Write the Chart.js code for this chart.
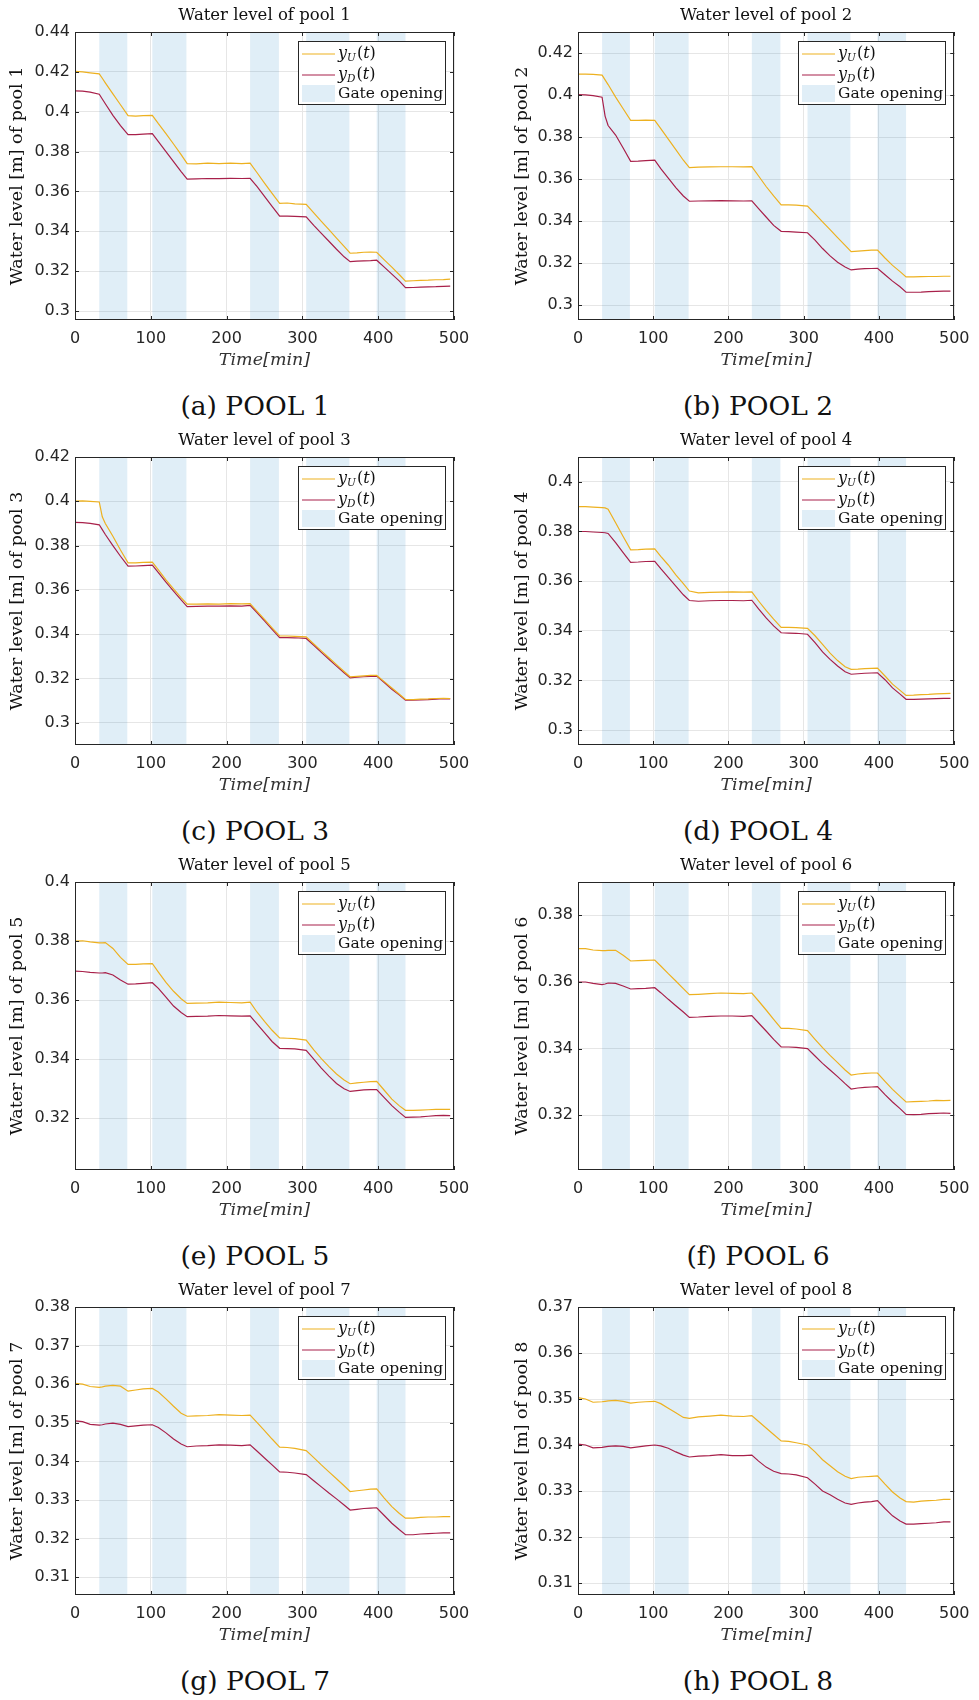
<!DOCTYPE html>
<html>
<head>
<meta charset="utf-8">
<script src="https://cdn.jsdelivr.net/npm/chart.js@4.4.1/dist/chart.umd.min.js"></script>
<style>
  html, body { margin: 0; padding: 0; background: #fff; }
  body { position: relative; width: 979px; height: 1700px; overflow: hidden; }
  .panel { position: absolute; height: 385px; }
  .panel canvas { display: block; }
  .cap { position: absolute; font-family: "DejaVu Serif", serif; font-size: 26.5px; color: #111;
         transform: translate(-50%, -50%); white-space: nowrap; line-height: 1; }
</style>
</head>
<body>
<script>
// Sample times [min], shared by every pool
const minutes = [0,10,20,32,36,40,50,60,70,80,90,102,110,120,130,140,148,160,175,190,205,220,231,240,250,260,270,280,290,305,315,325,335,345,355,363,372,381,390,398,408,418,428,436,446,456,466,476,486,495];

// Gate opening intervals [min]
const gateStart = [32, 102, 231, 305, 398];
const gateEnd   = [69, 147, 269, 362, 436];

const xTicks = [0, 100, 200, 300, 400, 500];

// Upstream (yU) and downstream (yD) water levels [m]
const pool1Up = [0.4202,0.4200,0.4195,0.4190,0.4168,0.4145,0.4090,0.4035,0.3980,0.3978,
  0.3980,0.3982,0.3940,0.3890,0.3838,0.3785,0.3740,0.3738,0.3742,0.3740,
  0.3742,0.3740,0.3742,0.3695,0.3642,0.3590,0.3540,0.3542,0.3538,0.3535,
  0.3492,0.3450,0.3408,0.3366,0.3324,0.3290,0.3292,0.3295,0.3296,0.3295,
  0.3257,0.3220,0.3182,0.3150,0.3152,0.3154,0.3155,0.3157,0.3158,0.3160];
const pool1Down = [0.4105,0.4103,0.4098,0.4088,0.4064,0.4040,0.3982,0.3930,0.3885,0.3885,
  0.3888,0.3890,0.3850,0.3800,0.3750,0.3700,0.3662,0.3663,0.3665,0.3664,
  0.3666,0.3665,0.3666,0.3625,0.3575,0.3525,0.3476,0.3476,0.3475,0.3472,
  0.3430,0.3390,0.3350,0.3310,0.3272,0.3248,0.3250,0.3252,0.3253,0.3255,
  0.3220,0.3185,0.3150,0.3117,0.3118,0.3120,0.3121,0.3122,0.3124,0.3125];

const pool2Up = [0.4100,0.4100,0.4098,0.4095,0.4072,0.4050,0.3990,0.3935,0.3880,0.3880,
  0.3881,0.3880,0.3840,0.3790,0.3740,0.3690,0.3655,0.3657,0.3658,0.3659,
  0.3659,0.3658,0.3660,0.3615,0.3565,0.3520,0.3478,0.3478,0.3476,0.3472,
  0.3435,0.3397,0.3360,0.3322,0.3285,0.3255,0.3258,0.3260,0.3262,0.3262,
  0.3225,0.3190,0.3160,0.3135,0.3135,0.3136,0.3137,0.3137,0.3138,0.3138];
const pool2Down = [0.4002,0.4001,0.3997,0.3990,0.3900,0.3855,0.3810,0.3748,0.3685,0.3686,
  0.3688,0.3690,0.3650,0.3605,0.3560,0.3520,0.3495,0.3496,0.3497,0.3498,
  0.3497,0.3496,0.3497,0.3460,0.3420,0.3380,0.3352,0.3350,0.3348,0.3345,
  0.3310,0.3270,0.3235,0.3205,0.3182,0.3168,0.3172,0.3174,0.3175,0.3176,
  0.3145,0.3115,0.3088,0.3062,0.3062,0.3063,0.3065,0.3066,0.3067,0.3067];

const pool3Up = [0.4001,0.4002,0.4000,0.3997,0.3930,0.3900,0.3842,0.3780,0.3722,0.3722,
  0.3724,0.3725,0.3690,0.3645,0.3605,0.3565,0.3536,0.3536,0.3537,0.3536,
  0.3538,0.3537,0.3538,0.3504,0.3467,0.3429,0.3392,0.3392,0.3390,0.3388,
  0.3356,0.3325,0.3294,0.3263,0.3232,0.3208,0.3210,0.3212,0.3214,0.3214,
  0.3186,0.3157,0.3129,0.3106,0.3105,0.3107,0.3108,0.3110,0.3111,0.3110];
const pool3Down = [0.3905,0.3904,0.3900,0.3894,0.3872,0.3850,0.3800,0.3752,0.3707,0.3708,
  0.3710,0.3712,0.3678,0.3635,0.3595,0.3555,0.3525,0.3526,0.3527,0.3527,
  0.3528,0.3527,0.3530,0.3498,0.3460,0.3422,0.3385,0.3385,0.3384,0.3381,
  0.3350,0.3318,0.3287,0.3256,0.3226,0.3203,0.3206,0.3208,0.3210,0.3211,
  0.3182,0.3152,0.3125,0.3102,0.3102,0.3104,0.3105,0.3107,0.3109,0.3108];

const pool4Up = [0.3900,0.3900,0.3898,0.3896,0.3895,0.3890,0.3835,0.3780,0.3726,0.3727,
  0.3729,0.3730,0.3700,0.3665,0.3625,0.3590,0.3560,0.3553,0.3555,0.3556,
  0.3557,0.3556,0.3557,0.3520,0.3482,0.3447,0.3414,0.3414,0.3413,0.3410,
  0.3380,0.3345,0.3310,0.3280,0.3255,0.3245,0.3246,0.3248,0.3249,0.3250,
  0.3218,0.3185,0.3160,0.3140,0.3141,0.3143,0.3144,0.3146,0.3147,0.3148];
const pool4Down = [0.3800,0.3800,0.3798,0.3796,0.3795,0.3792,0.3755,0.3715,0.3676,0.3677,
  0.3679,0.3680,0.3650,0.3615,0.3580,0.3545,0.3522,0.3519,0.3521,0.3522,
  0.3522,0.3521,0.3523,0.3488,0.3452,0.3420,0.3392,0.3391,0.3390,0.3386,
  0.3352,0.3315,0.3285,0.3258,0.3235,0.3225,0.3227,0.3229,0.3230,0.3231,
  0.3203,0.3170,0.3145,0.3124,0.3124,0.3125,0.3126,0.3127,0.3128,0.3128];

const pool5Up = [0.3800,0.3801,0.3797,0.3794,0.3794,0.3795,0.3775,0.3745,0.3721,0.3721,
  0.3723,0.3724,0.3695,0.3660,0.3630,0.3605,0.3589,0.3590,0.3591,0.3593,
  0.3592,0.3591,0.3593,0.3560,0.3528,0.3498,0.3472,0.3471,0.3470,0.3465,
  0.3432,0.3402,0.3375,0.3350,0.3330,0.3317,0.3320,0.3322,0.3324,0.3325,
  0.3295,0.3265,0.3242,0.3227,0.3227,0.3228,0.3229,0.3230,0.3230,0.3230];
const pool5Down = [0.3698,0.3697,0.3694,0.3692,0.3692,0.3693,0.3685,0.3668,0.3654,0.3655,
  0.3657,0.3659,0.3640,0.3610,0.3580,0.3558,0.3544,0.3545,0.3546,0.3548,
  0.3547,0.3546,0.3547,0.3520,0.3490,0.3460,0.3437,0.3436,0.3435,0.3430,
  0.3400,0.3370,0.3343,0.3318,0.3300,0.3291,0.3294,0.3296,0.3297,0.3297,
  0.3270,0.3243,0.3220,0.3203,0.3204,0.3205,0.3207,0.3209,0.3210,0.3209];

const pool6Up = [0.3700,0.3700,0.3696,0.3694,0.3694,0.3695,0.3695,0.3680,0.3663,0.3664,
  0.3665,0.3666,0.3648,0.3625,0.3603,0.3580,0.3562,0.3563,0.3565,0.3567,
  0.3566,0.3565,0.3567,0.3543,0.3516,0.3488,0.3461,0.3461,0.3459,0.3454,
  0.3428,0.3403,0.3380,0.3358,0.3336,0.3321,0.3324,0.3326,0.3327,0.3327,
  0.3302,0.3278,0.3257,0.3240,0.3241,0.3242,0.3243,0.3245,0.3244,0.3245];
const pool6Down = [0.3600,0.3600,0.3596,0.3592,0.3594,0.3597,0.3596,0.3588,0.3579,0.3580,
  0.3581,0.3583,0.3568,0.3548,0.3529,0.3510,0.3494,0.3495,0.3497,0.3498,
  0.3498,0.3497,0.3499,0.3477,0.3453,0.3428,0.3405,0.3405,0.3404,0.3400,
  0.3378,0.3356,0.3336,0.3316,0.3295,0.3279,0.3282,0.3284,0.3285,0.3286,
  0.3262,0.3240,0.3220,0.3203,0.3202,0.3203,0.3205,0.3206,0.3207,0.3206];

const pool7Up = [0.3602,0.3600,0.3594,0.3592,0.3593,0.3595,0.3597,0.3595,0.3582,0.3585,
  0.3588,0.3589,0.3580,0.3562,0.3543,0.3525,0.3517,0.3518,0.3519,0.3521,
  0.3520,0.3519,0.3520,0.3501,0.3480,0.3458,0.3437,0.3436,0.3434,0.3428,
  0.3410,0.3391,0.3373,0.3355,0.3337,0.3322,0.3324,0.3326,0.3328,0.3329,
  0.3305,0.3283,0.3265,0.3253,0.3253,0.3255,0.3256,0.3256,0.3257,0.3257];
const pool7Down = [0.3505,0.3503,0.3496,0.3494,0.3495,0.3497,0.3499,0.3496,0.3490,0.3492,
  0.3494,0.3495,0.3488,0.3474,0.3458,0.3445,0.3438,0.3440,0.3441,0.3443,
  0.3442,0.3441,0.3443,0.3427,0.3409,0.3391,0.3373,0.3372,0.3370,0.3366,
  0.3350,0.3334,0.3318,0.3303,0.3287,0.3274,0.3276,0.3278,0.3279,0.3280,
  0.3260,0.3240,0.3223,0.3210,0.3210,0.3212,0.3213,0.3214,0.3215,0.3215];

const pool8Up = [0.3503,0.3500,0.3493,0.3494,0.3495,0.3496,0.3497,0.3495,0.3491,0.3493,
  0.3494,0.3495,0.3490,0.3480,0.3470,0.3460,0.3458,0.3461,0.3463,0.3465,
  0.3463,0.3462,0.3464,0.3451,0.3437,0.3423,0.3409,0.3408,0.3405,0.3400,
  0.3385,0.3368,0.3355,0.3342,0.3332,0.3327,0.3330,0.3331,0.3332,0.3333,
  0.3315,0.3298,0.3285,0.3277,0.3276,0.3278,0.3279,0.3280,0.3282,0.3282];
const pool8Down = [0.3402,0.3400,0.3394,0.3395,0.3396,0.3397,0.3398,0.3397,0.3394,0.3396,
  0.3398,0.3400,0.3398,0.3393,0.3385,0.3378,0.3374,0.3376,0.3377,0.3379,
  0.3377,0.3377,0.3378,0.3365,0.3352,0.3343,0.3338,0.3337,0.3335,0.3329,
  0.3315,0.3300,0.3292,0.3282,0.3274,0.3271,0.3274,0.3276,0.3277,0.3279,
  0.3262,0.3246,0.3235,0.3228,0.3228,0.3229,0.3230,0.3231,0.3233,0.3233];

// Y tick labels per pool
const pool1YTicks = ['0.3','0.32','0.34','0.36','0.38','0.4','0.42','0.44'];
const pool2YTicks = ['0.3','0.32','0.34','0.36','0.38','0.4','0.42'];
const pool3YTicks = ['0.3','0.32','0.34','0.36','0.38','0.4','0.42'];
const pool4YTicks = ['0.3','0.32','0.34','0.36','0.38','0.4'];
const pool5YTicks = ['0.32','0.34','0.36','0.38','0.4'];
const pool6YTicks = ['0.32','0.34','0.36','0.38'];
const pool7YTicks = ['0.31','0.32','0.33','0.34','0.35','0.36','0.37','0.38'];
const pool8YTicks = ['0.31','0.32','0.33','0.34','0.35','0.36','0.37'];

const panels = [
  { n: 1, cap: '(a) POOL 1', up: pool1Up, down: pool1Down, yTicks: pool1YTicks, yMin: 0.2955, yMax: 0.44 },
  { n: 2, cap: '(b) POOL 2', up: pool2Up, down: pool2Down, yTicks: pool2YTicks, yMin: 0.2930, yMax: 0.43 },
  { n: 3, cap: '(c) POOL 3', up: pool3Up, down: pool3Down, yTicks: pool3YTicks, yMin: 0.2900, yMax: 0.42 },
  { n: 4, cap: '(d) POOL 4', up: pool4Up, down: pool4Down, yTicks: pool4YTicks, yMin: 0.2940, yMax: 0.41 },
  { n: 5, cap: '(e) POOL 5', up: pool5Up, down: pool5Down, yTicks: pool5YTicks, yMin: 0.3025, yMax: 0.40 },
  { n: 6, cap: '(f) POOL 6', up: pool6Up, down: pool6Down, yTicks: pool6YTicks, yMin: 0.3036, yMax: 0.39 },
  { n: 7, cap: '(g) POOL 7', up: pool7Up, down: pool7Down, yTicks: pool7YTicks, yMin: 0.3054, yMax: 0.38 },
  { n: 8, cap: '(h) POOL 8', up: pool8Up, down: pool8Down, yTicks: pool8YTicks, yMin: 0.3074, yMax: 0.37 }
];

const UP_COLOR = '#EDB120';
const DOWN_COLOR = '#A8204A';
const GATE_FILL = 'rgba(0, 114, 189, 0.12)';
const AXIS_COLOR = '#262626';

// Shaded gate-opening intervals behind the curves
const gateBands = {
  id: 'gateBands',
  beforeDatasetsDraw(chart) {
    const { ctx, chartArea: a, scales: { x } } = chart;
    ctx.save();
    ctx.fillStyle = GATE_FILL;
    for (let i = 0; i < gateStart.length; i++) {
      const x1 = x.getPixelForValue(gateStart[i]);
      const x2 = x.getPixelForValue(gateEnd[i]);
      ctx.fillRect(x1, a.top, x2 - x1, a.bottom - a.top);
    }
    ctx.restore();
  }
};

// Axes box with inward tick marks on all four sides
const axesBox = {
  id: 'axesBox',
  afterDatasetsDraw(chart) {
    const { ctx, chartArea: a, scales: { x, y } } = chart;
    ctx.save();
    ctx.strokeStyle = AXIS_COLOR;
    ctx.lineWidth = 1;
    ctx.strokeRect(Math.round(a.left) + 0.5, Math.round(a.top) + 0.5,
                   Math.round(a.right - a.left) - 1, Math.round(a.bottom - a.top) - 1);
    ctx.beginPath();
    const tl = 4;
    y.ticks.forEach(t => {
      const py = Math.round(y.getPixelForValue(t.value)) + 0.5;
      ctx.moveTo(a.left, py); ctx.lineTo(a.left + tl, py);
      ctx.moveTo(a.right, py); ctx.lineTo(a.right - tl, py);
    });
    x.ticks.forEach(t => {
      const px = Math.round(x.getPixelForValue(t.value)) + 0.5;
      ctx.moveTo(px, a.bottom); ctx.lineTo(px, a.bottom - tl);
      ctx.moveTo(px, a.top); ctx.lineTo(px, a.top + tl);
    });
    ctx.stroke();
    ctx.restore();
  }
};

function drawMathName(ctx, x, y, sub) {
  ctx.textBaseline = 'middle';
  ctx.textAlign = 'left';
  ctx.font = 'italic 16px "DejaVu Serif"';
  ctx.fillText('y', x, y);
  x += ctx.measureText('y').width;
  ctx.font = 'italic 10.5px "DejaVu Serif"';
  ctx.fillText(sub, x, y + 4);
  x += ctx.measureText(sub).width + 1;
  ctx.font = '16px "DejaVu Serif"';
  ctx.fillText('(', x, y);
  x += ctx.measureText('(').width;
  ctx.font = 'italic 16px "DejaVu Serif"';
  ctx.fillText('t', x, y);
  x += ctx.measureText('t').width;
  ctx.font = '16px "DejaVu Serif"';
  ctx.fillText(')', x, y);
}

// Legend box in the upper right corner of the axes
const legendBox = {
  id: 'legendBox',
  afterDatasetsDraw(chart) {
    const { ctx, chartArea: a } = chart;
    const x0 = Math.round(a.right) - 156, y0 = Math.round(a.top) + 9, w = 147, h = 63;
    ctx.save();
    ctx.fillStyle = '#fff';
    ctx.fillRect(x0, y0, w, h);
    ctx.strokeStyle = AXIS_COLOR;
    ctx.lineWidth = 1;
    ctx.strokeRect(x0 + 0.5, y0 + 0.5, w, h);
    const sx1 = x0 + 4, sx2 = x0 + 37, tx = x0 + 40;
    const r1 = y0 + 13, r2 = y0 + 34, r3 = y0 + 53;
    ctx.lineWidth = 1.2;
    ctx.strokeStyle = UP_COLOR;
    ctx.beginPath(); ctx.moveTo(sx1, r1); ctx.lineTo(sx2, r1); ctx.stroke();
    ctx.strokeStyle = DOWN_COLOR;
    ctx.beginPath(); ctx.moveTo(sx1, r2); ctx.lineTo(sx2, r2); ctx.stroke();
    ctx.fillStyle = GATE_FILL;
    ctx.fillRect(sx1, r3 - 9, sx2 - sx1, 17);
    ctx.fillStyle = '#111';
    drawMathName(ctx, tx, r1, 'U');
    drawMathName(ctx, tx, r2, 'D');
    ctx.font = '15.5px "DejaVu Serif"';
    ctx.textBaseline = 'middle';
    ctx.fillText('Gate opening', tx, r3);
    ctx.restore();
  }
};

Chart.defaults.font.family = '"DejaVu Sans"';
Chart.defaults.animation = false;

panels.forEach((p, i) => {
  const col = i % 2, row = Math.floor(i / 2);
  const left = col === 0 ? 0 : 490;
  const width = col === 0 ? 490 : 489;
  const yAxisWidth = col === 0 ? 75 : 88;
  const padRight = col === 0 ? 36 : 22;
  const yTitlePad = col === 0 ? 7 : 22;

  const box = document.createElement('div');
  box.className = 'panel';
  box.style.left = left + 'px';
  box.style.top = (row * 425) + 'px';
  box.style.width = width + 'px';
  box.style.height = '385px';
  const cv = document.createElement('canvas');
  box.appendChild(cv);
  document.body.appendChild(box);

  const cap = document.createElement('div');
  cap.className = 'cap';
  cap.textContent = p.cap;
  cap.style.left = (col === 0 ? 255 : 758) + 'px';
  cap.style.top = (row * 425 + 406) + 'px';
  document.body.appendChild(cap);

  new Chart(cv, {
    type: 'line',
    data: {
      datasets: [
        { label: 'yU(t)', data: minutes.map((t, k) => ({ x: t, y: p.up[k] })),
          borderColor: UP_COLOR, borderWidth: 1.2, pointRadius: 0, tension: 0, fill: false },
        { label: 'yD(t)', data: minutes.map((t, k) => ({ x: t, y: p.down[k] })),
          borderColor: DOWN_COLOR, borderWidth: 1.2, pointRadius: 0, tension: 0, fill: false }
      ]
    },
    options: {
      responsive: true,
      maintainAspectRatio: false,
      layout: { padding: { top: 0, left: 0, right: padRight, bottom: 5 } },
      plugins: {
        legend: { display: false },
        tooltip: { enabled: false },
        title: {
          display: true, text: 'Water level of pool ' + p.n, fullSize: false,
          font: { family: '"DejaVu Serif"', size: 16.5, weight: 'normal' },
          color: '#111', padding: { top: 6.1, bottom: 6.1 }
        }
      },
      scales: {
        x: {
          type: 'linear', min: 0, max: 500,
          afterBuildTicks: s => { s.ticks = xTicks.map(v => ({ value: v })); },
          afterFit: s => { s.height = 60; },
          ticks: { callback: (v, k) => String(xTicks[k]), autoSkip: false, maxRotation: 0,
                   font: { size: 16 }, color: AXIS_COLOR, padding: 9.5 },
          grid: { color: '#e6e6e6', drawTicks: false },
          border: { display: false },
          title: { display: true, text: 'Time[min]',
                   font: { family: '"DejaVu Serif"', size: 17.5, style: 'italic' },
                   color: '#333', padding: { top: 0, bottom: 9.5 } }
        },
        y: {
          type: 'linear', min: p.yMin, max: p.yMax,
          afterBuildTicks: s => { s.ticks = p.yTicks.map(v => ({ value: parseFloat(v) })); },
          afterFit: s => { s.width = yAxisWidth; },
          ticks: { callback: (v, k) => p.yTicks[k], autoSkip: false,
                   font: { size: 16 }, color: AXIS_COLOR, padding: 5 },
          grid: { color: '#e6e6e6', drawTicks: false },
          border: { display: false },
          title: { display: true, text: 'Water level [m] of pool ' + p.n,
                   font: { family: '"DejaVu Serif"', size: 17.5 },
                   color: '#111', padding: { top: yTitlePad, bottom: 0 } }
        }
      }
    },
    plugins: [gateBands, axesBox, legendBox]
  });
});
</script>
</body>
</html>
